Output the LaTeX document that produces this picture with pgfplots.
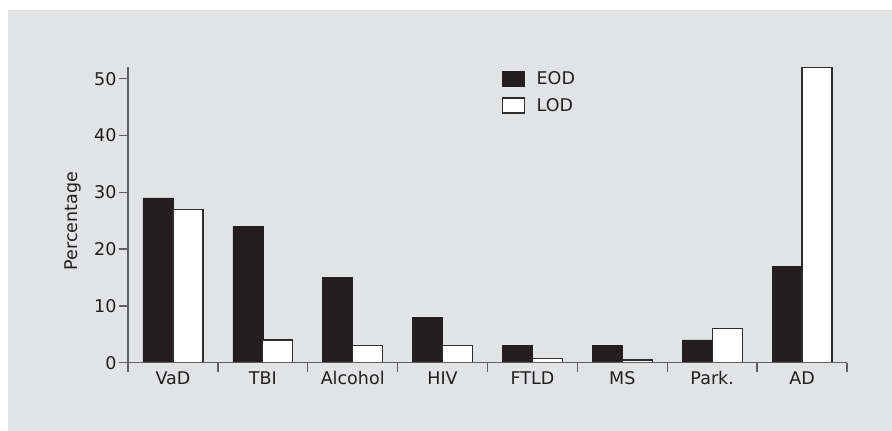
\documentclass[border=0pt]{standalone}
\usepackage{pgfplots}
\pgfplotsset{compat=1.18}
\usepackage{fontspec}
\setmainfont{DejaVu Sans}
\definecolor{bg}{RGB}{226,227,229}
\definecolor{eod}{RGB}{35,31,32}
\definecolor{txt}{RGB}{35,31,32}
\definecolor{axl}{RGB}{95,95,97}
\definecolor{lodl}{RGB}{45,45,45}
\newcommand{\fs}{\fontsize{17.5pt}{20pt}\selectfont}
\begin{document}
\begin{tikzpicture}[x=1pt,y=1pt]
\path (0,0) rectangle (892,431);
\fill[bg] (8,0) rectangle (892,421);
\begin{axis}[
  at={(128pt,68.3pt)}, anchor=south west,
  scale only axis, width=719pt, height=295.4pt,
  xmin=0, xmax=8, ymin=0, ymax=52,
  axis x line=bottom, axis y line=left,
  axis line style={-, draw=axl, line width=1.3pt},
  axis on top,
  tick align=outside,
  major tick length=9pt, minor tick length=9pt,
  every tick/.style={draw=axl, line width=1.3pt},
  xtick={0.5,1.5,...,7.5},
  xticklabels={VaD,TBI,Alcohol,HIV,FTLD,MS,Park.,AD},
  major x tick style={draw=none},
  minor xtick={0,1,...,8},
  ytick={0,10,...,50},
  /pgf/number format/assume math mode=true,
  tick label style={font=\fs, text=txt},
  y tick label style={xshift=1pt},
  x tick label style={anchor=base, yshift=-13.3pt},
  ylabel={Percentage},
  ylabel style={font=\fs, text=txt, at={(axis description cs:-0.0772,0.479)}, anchor=center},
  ybar, bar width=30pt,
  legend style={draw=none, fill=none, font=\fs, text=txt,
    at={(axis description cs:0.520,0.992)}, anchor=north west,
    inner sep=0pt, outer sep=0pt, row sep=8pt,
    /tikz/every odd column/.append style={column sep=9.5pt},
    cells={anchor=west}},
]
\addplot[fill=eod, draw=eod, bar shift=-15pt,
  legend image code/.code={\draw[fill=eod,draw=eod] (0pt,-7.5pt) rectangle (22pt,7.5pt);}]
  coordinates {(0.5,29) (1.5,24) (2.5,15) (3.5,8) (4.5,3) (5.5,3) (6.5,4) (7.5,17)};
\addplot[fill=white, draw=lodl, line width=1.3pt, bar shift=15pt,
  legend image code/.code={\draw[fill=white,draw=lodl,line width=1.3pt] (0pt,-7.5pt) rectangle (22pt,7.5pt);}]
  coordinates {(0.5,27) (1.5,4) (2.5,3) (3.5,3) (4.5,0.7) (5.5,0.5) (6.5,6) (7.5,52)};
\legend{EOD,LOD}
\end{axis}
\end{tikzpicture}
\end{document}
